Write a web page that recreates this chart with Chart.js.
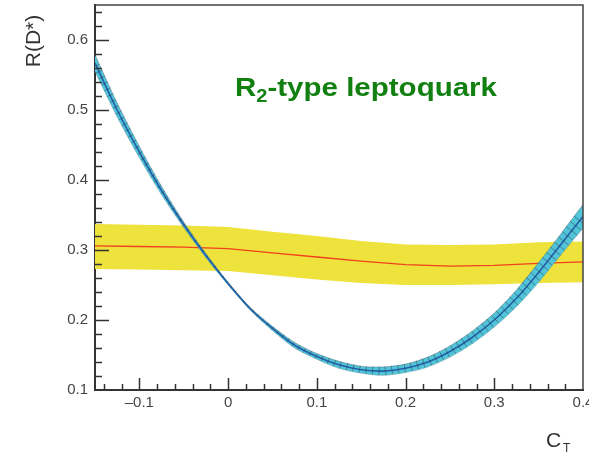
<!DOCTYPE html>
<html>
<head>
<meta charset="utf-8">
<script src="https://cdn.jsdelivr.net/npm/chart.js@4.4.1/dist/chart.umd.min.js"></script>
<style>
  html, body { margin: 0; padding: 0; background: #fff; }
  #c { display: block; }
</style>
</head>
<body>
<canvas id="c" width="589" height="452"></canvas>
<script>
// C_T values sampled along the leptoquark prediction
const cT = [-0.15, -0.125, -0.1, -0.075, -0.05, -0.025, 0, 0.025, 0.05, 0.075, 0.1, 0.125,
            0.15, 0.175, 0.2, 0.225, 0.25, 0.275, 0.3, 0.325, 0.35, 0.375, 0.4];
// predicted R(D*) and its half-width
const rLQ = [0.567, 0.500, 0.440, 0.385, 0.336, 0.292, 0.252, 0.216, 0.188, 0.164, 0.148, 0.136,
             0.129, 0.127, 0.131, 0.140, 0.155, 0.175, 0.200, 0.231, 0.268, 0.308, 0.348];
const rLQErr = [0.012, 0.010, 0.008, 0.006, 0.004, 0.003, 0.002, 0.002, 0.003, 0.004, 0.004, 0.005,
                0.005, 0.006, 0.006, 0.007, 0.008, 0.009, 0.010, 0.012, 0.014, 0.015, 0.017];

// measured R(D*) band
const expX = [-0.15, -0.1, -0.05, 0, 0.05, 0.1, 0.15, 0.2, 0.25, 0.3, 0.35, 0.4];
const expMid = [0.306, 0.305, 0.304, 0.302, 0.296, 0.290, 0.284, 0.279, 0.277, 0.278, 0.281, 0.283];
const expHi = [0.337, 0.336, 0.335, 0.333, 0.326, 0.320, 0.313, 0.308, 0.307, 0.308, 0.311, 0.312];
const expLo = [0.273, 0.272, 0.271, 0.270, 0.264, 0.258, 0.253, 0.250, 0.250, 0.251, 0.253, 0.254];

const xTicks = [-0.1, 0, 0.1, 0.2, 0.3, 0.4];
const yTicks = [0.1, 0.2, 0.3, 0.4, 0.5, 0.6];

const pts = (xs, ys) => xs.map((x, i) => ({ x: x, y: ys[i] }));
const isMajor = v => Math.abs(v * 10 - Math.round(v * 10)) < 1e-6;
const fmt = v => {
  if (Math.abs(v) < 1e-9) return '0';
  return (v < 0 ? '\u2013' : '') + Math.abs(v).toFixed(1);
};

const AXIS = '#333';
const LABEL = '#444';
const FONT = '"Liberation Sans", Arial, sans-serif';

// keep the plot area tight to the canvas edges
function noOverhang(scale) {
  scale.paddingLeft = 0;
  scale.paddingRight = 0;
  scale.paddingTop = 0;
  scale.paddingBottom = 0;
}

// inward ticks, frame, labels and hatching on the band
const decor = {
  id: 'decor',
  afterDatasetsDraw(chart) {
    const ctx = chart.ctx;
    const xs = chart.scales.x, ys = chart.scales.y;
    const a = chart.chartArea;

    // hatch marks across the prediction band
    const p = cT.map((c, i) => ({
      x: xs.getPixelForValue(c),
      y: ys.getPixelForValue(rLQ[i]),
      h: Math.abs(ys.getPixelForValue(rLQ[i] + rLQErr[i]) - ys.getPixelForValue(rLQ[i]))
    }));
    ctx.save();
    ctx.beginPath();
    ctx.rect(a.left, a.top, a.right - a.left, a.bottom - a.top);
    ctx.clip();
    ctx.strokeStyle = 'rgba(40,55,70,0.6)';
    ctx.lineWidth = 0.8;
    const step = 6.5;
    let t = 3;
    for (let i = 0; i < p.length - 1; i++) {
      const dx = p[i + 1].x - p[i].x, dy = p[i + 1].y - p[i].y;
      const len = Math.hypot(dx, dy);
      const nx = -dy / len, ny = dx / len;
      while (t <= len) {
        const f = t / len;
        const cx = p[i].x + dx * f, cy = p[i].y + dy * f;
        const h = (p[i].h + (p[i + 1].h - p[i].h) * f) * Math.abs(dx) / len;
        ctx.beginPath();
        ctx.moveTo(cx - nx * h, cy - ny * h);
        ctx.lineTo(cx + nx * h, cy + ny * h);
        ctx.stroke();
        t += step;
      }
      t -= len;
    }
    ctx.restore();

    ctx.save();
    // frame on top and right
    ctx.strokeStyle = '#444';
    ctx.lineWidth = 1.5;
    ctx.beginPath();
    ctx.moveTo(a.left, a.top);
    ctx.lineTo(a.right, a.top);
    ctx.lineTo(a.right, a.bottom);
    ctx.stroke();

    // ticks pointing into the plot
    ctx.strokeStyle = AXIS;
    ctx.lineWidth = 1.5;
    for (let k = -7; k <= 20; k++) {
      const v = k / 50;
      const x = Math.round(xs.getPixelForValue(v)) + 0.5;
      if (x <= a.left + 1 || x >= a.right - 1) continue;
      const L = isMajor(v) ? 12 : 6;
      ctx.beginPath();
      ctx.moveTo(x, a.bottom);
      ctx.lineTo(x, a.bottom - L);
      ctx.stroke();
    }
    for (let k = 6; k <= 32; k++) {
      const v = k / 50;
      const y = Math.round(ys.getPixelForValue(v)) + 0.5;
      if (y >= a.bottom - 1 || y <= a.top + 1) continue;
      const L = isMajor(v) ? 14 : 7;
      ctx.beginPath();
      ctx.moveTo(a.left, y);
      ctx.lineTo(a.left + L, y);
      ctx.stroke();
    }

    // axis titles
    ctx.fillStyle = '#333';
    ctx.font = '21px ' + FONT;
    ctx.save();
    ctx.translate(40, 41);
    ctx.rotate(-Math.PI / 2);
    ctx.textAlign = 'center';
    ctx.textBaseline = 'alphabetic';
    ctx.fillText('R(D*)', 0, 0);
    ctx.restore();

    ctx.textAlign = 'left';
    ctx.textBaseline = 'alphabetic';
    ctx.font = '21px ' + FONT;
    ctx.fillText('C', 546, 447);
    ctx.font = '12px ' + FONT;
    ctx.fillText('T', 563, 452);

    // model label, stretched to span 235..497
    ctx.fillStyle = '#118011';
    const big = 'bold 26.5px ' + FONT, small = 'bold 18px ' + FONT;
    ctx.font = big;
    const wR = ctx.measureText('R').width, wRest = ctx.measureText('-type leptoquark').width;
    ctx.font = small;
    const w2 = ctx.measureText('2').width;
    const sx = 262 / (wR + w2 + wRest);
    ctx.translate(235, 96);
    ctx.scale(sx, 1);
    ctx.font = big;
    ctx.fillText('R', 0, 0);
    ctx.font = small;
    ctx.fillText('2', wR, 6);
    ctx.font = big;
    ctx.fillText('-type leptoquark', wR + w2, 0);
    ctx.restore();
  }
};

new Chart(document.getElementById('c'), {
  type: 'line',
  data: {
    datasets: [
      {
        data: pts(cT, rLQ),
        order: 0,
        borderColor: '#2360a8',
        borderWidth: 1.6,
        pointRadius: 0,
        fill: false,
        tension: 0.3
      },
      {
        data: pts(cT, rLQ.map((v, i) => v + rLQErr[i])),
        order: 1,
        borderColor: 'rgba(60,70,80,0.5)',
        borderWidth: 0.7,
        pointRadius: 0,
        backgroundColor: '#52c4d8',
        fill: '+1',
        tension: 0.3
      },
      {
        data: pts(cT, rLQ.map((v, i) => v - rLQErr[i])),
        order: 2,
        borderColor: 'rgba(60,70,80,0.5)',
        borderWidth: 0.7,
        pointRadius: 0,
        fill: false,
        tension: 0.3
      },
      {
        data: pts(expX, expMid),
        order: 3,
        borderColor: '#f0401e',
        borderWidth: 1.3,
        pointRadius: 0,
        fill: false,
        tension: 0
      },
      {
        data: pts(expX, expHi),
        order: 4,
        borderWidth: 0,
        pointRadius: 0,
        backgroundColor: '#eee23c',
        fill: '+1',
        tension: 0
      },
      {
        data: pts(expX, expLo),
        order: 5,
        borderWidth: 0,
        pointRadius: 0,
        fill: false,
        tension: 0
      }
    ]
  },
  options: {
    responsive: false,
    animation: false,
    layout: { padding: { top: 5, right: 6, left: 0, bottom: 0 } },
    plugins: {
      legend: { display: false },
      tooltip: { enabled: false }
    },
    scales: {
      x: {
        type: 'linear',
        min: -0.15,
        max: 0.4,
        afterFit(scale) { scale.height = 62; noOverhang(scale); },
        afterBuildTicks(scale) { scale.ticks = xTicks.map(v => ({ value: v })); },
        grid: { display: false, drawTicks: false },
        border: { display: true, color: AXIS, width: 2 },
        ticks: {
          padding: 4,
          color: LABEL,
          font: { family: FONT, size: 15 },
          callback: v => fmt(v)
        }
      },
      y: {
        type: 'linear',
        min: 0.1,
        max: 0.65,
        afterFit(scale) { scale.width = 95; noOverhang(scale); },
        afterBuildTicks(scale) { scale.ticks = yTicks.map(v => ({ value: v })); },
        grid: { display: false, drawTicks: false },
        border: { display: true, color: AXIS, width: 2 },
        ticks: {
          padding: 7,
          color: LABEL,
          font: { family: FONT, size: 15 },
          callback: v => fmt(v)
        }
      }
    }
  },
  plugins: [decor]
});
</script>
</body>
</html>
